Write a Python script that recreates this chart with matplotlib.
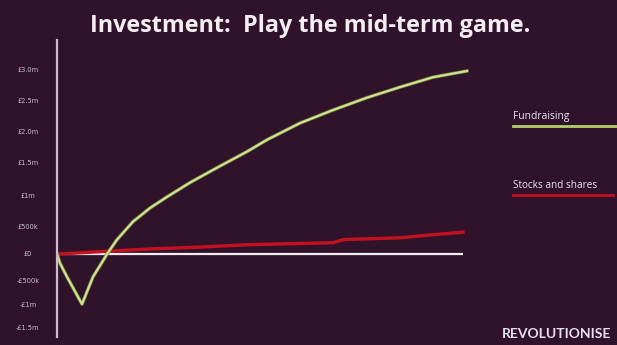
import matplotlib
matplotlib.use("Agg")
import matplotlib.pyplot as plt
import matplotlib.patheffects as pe

# time axis (arbitrary units) and values in £m
fund_x = [0, 0.3, 1.0, 2.5, 3.6, 5.1, 6.0, 7.6, 9.3, 11.0, 13.3, 16.0, 19.0,
          21.0, 24.3, 27.6, 31.0, 34.3, 37.6, 41.0]
fund_y = [0, -0.15, -0.37, -0.81, -0.37, 0.02, 0.23, 0.52, 0.74, 0.92, 1.15,
          1.39, 1.65, 1.84, 2.11, 2.32, 2.52, 2.69, 2.85, 2.95]

stock_x = [0, 0.3, 9.3, 14.3, 19.3, 27.6, 28.6, 30.3, 34.3, 37.6, 40.6]
stock_y = [0, 0.0, 0.08, 0.11, 0.15, 0.18, 0.23, 0.24, 0.26, 0.31, 0.35]

zero_x = [0, 40.6]
zero_y = [0, 0]

tick_vals = [-1.19, -0.82, -0.43, 0, 0.45, 0.95, 1.47, 1.97, 2.48, 2.97]
tick_labels = ["-£1.5m", "-£1m", "-£500k", "£0", "£500k", "£1m",
               "£1.5m", "£2.0m", "£2.5m", "£3.0m"]

bg = "#30132b"
green = "#d3e09a"
red = "#c3121f"

fig = plt.figure(figsize=(6.17, 3.45), dpi=100, facecolor=bg)
ax = fig.add_axes([57 / 617, 8 / 345, 423 / 617, 297 / 345], facecolor=bg)

ax.plot(zero_x, zero_y, color="#f3ecf3", lw=1.6, solid_capstyle="butt")
ax.plot(stock_x, stock_y, color=red, lw=2.4)
ax.plot(fund_x, fund_y, color=green, lw=1.5,
        path_effects=[pe.Stroke(linewidth=2.5, foreground="#6f8a35"), pe.Normal()])

ax.set_xlim(0, 42.3)
ax.set_ylim(-1.34, 3.45)
ax.set_xticks([])
ax.set_yticks(tick_vals)
ax.set_yticklabels(tick_labels)
ax.tick_params(axis="y", length=0, pad=21, labelsize=4.8, labelcolor="#cbbfcf")
for lab in ax.get_yticklabels():
    lab.set_horizontalalignment("center")
for s in ["top", "right", "bottom"]:
    ax.spines[s].set_visible(False)
ax.spines["left"].set_color("#cdb8d6")
ax.spines["left"].set_linewidth(1.6)

fig.text(310 / 617, 1 - 26 / 345, "Investment:  Play the mid-term game.", ha="center",
         va="center", color="#f4eef4", fontsize=16.8, fontweight="bold", family="Open Sans")

# legend drawn like the slide
fig.text(513 / 617, 1 - 116 / 345, "Fundraising", ha="left", va="center",
         color="#ece4ee", fontsize=7.4, family="Open Sans")
fig.add_artist(plt.Line2D([513 / 617, 1.0], [1 - 126 / 345] * 2, color="#b4cf6c", lw=2))
fig.text(513 / 617, 1 - 185 / 345, "Stocks and shares", ha="left", va="center",
         color="#ece4ee", fontsize=7.2, family="Open Sans")
fig.add_artist(plt.Line2D([513 / 617, 613 / 617], [1 - 195 / 345] * 2, color=red, lw=2))

fig.text(502 / 617, 1 - 334 / 345, "REVOLUTIONISE", ha="left", va="center",
         color="#e6e0ee", fontsize=10.0, fontweight="bold", family="Lato")

fig.savefig("out.png", dpi=100, facecolor=bg)
